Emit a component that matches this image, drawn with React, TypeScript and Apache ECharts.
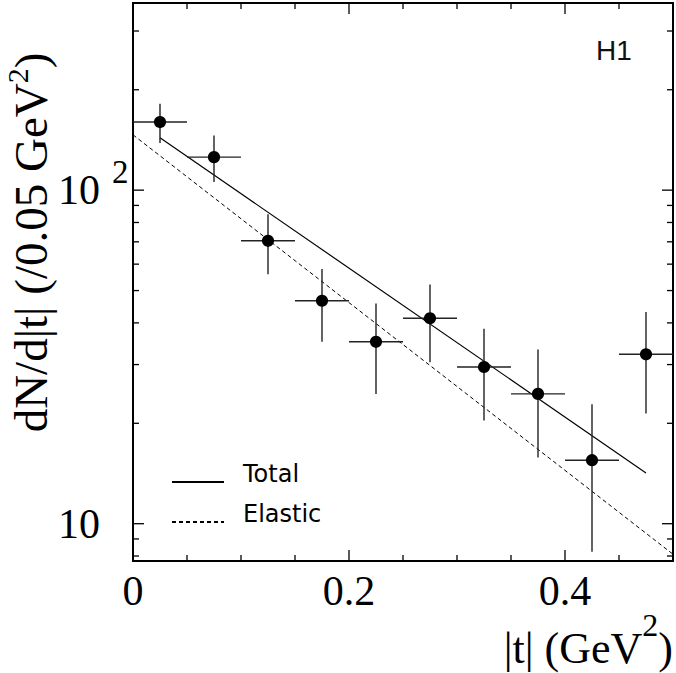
import React, { useEffect, useRef } from "react";
import * as echarts from "echarts";

// ---- data ----
const BIN_CENTERS = [0.025, 0.075, 0.125, 0.175, 0.225, 0.275, 0.325, 0.375, 0.425, 0.475];
const BIN_HALF_WIDTH = [0.025, 0.025, 0.025, 0.025, 0.025, 0.025, 0.025, 0.025, 0.025, 0.025];
const COUNTS = [160, 125.6, 70.5, 46.6, 35.1, 41.3, 29.5, 24.5, 15.5, 32.2];
const COUNTS_UPPER = [181.5, 145.8, 84.7, 58.0, 45.7, 52.1, 38.4, 33.3, 22.8, 43.1];
const COUNTS_LOWER = [138.4, 105.7, 56.0, 35.1, 24.5, 30.5, 20.4, 15.8, 8.24, 21.4];

const TOTAL_T = [0.025, 0.475];
const TOTAL_FIT = [143.5, 14.2];
const ELASTIC_T = [0, 0.5];
const ELASTIC_FIT = [146.5, 8.1];

const X_MIN = 0;
const X_MAX = 0.5;
const Y_MIN = 7.73;
const Y_MAX = 364;

const X_MAJOR_TICKS = [0, 0.2, 0.4];
const X_MINOR_TICKS = [0.05, 0.1, 0.15, 0.25, 0.3, 0.35, 0.45];
const Y_MAJOR_TICKS = [10, 100];
const Y_MINOR_TICKS = [8, 9, 20, 30, 40, 50, 60, 70, 80, 90, 200, 300];

const SERIF = "'Liberation Serif', 'Times New Roman', serif";
const SANS = "'DejaVu Sans', 'Liberation Sans', sans-serif";
const SANS2 = "'Liberation Sans', 'DejaVu Sans', sans-serif";

export default function App() {
  const ref = useRef<HTMLDivElement>(null);

  useEffect(() => {
    document.body.style.margin = "0";
    if (!ref.current) return;
    const chart = echarts.init(ref.current, undefined, { renderer: "svg" });

    const errData = BIN_CENTERS.map((x, i) => [x, COUNTS[i], COUNTS_LOWER[i], COUNTS_UPPER[i], BIN_HALF_WIDTH[i]]);
    const xTickData = [
      ...X_MAJOR_TICKS.map((v) => [v, Y_MIN, 1]),
      ...X_MINOR_TICKS.map((v) => [v, Y_MIN, 0]),
    ];
    const yTickData = [
      ...Y_MAJOR_TICKS.map((v) => [X_MIN, v, 1]),
      ...Y_MINOR_TICKS.map((v) => [X_MIN, v, 0]),
    ];
    const tickStyle = { stroke: "#000", lineWidth: 1.3 };

    const option: any = {
      animation: false,
      backgroundColor: "#fff",
      grid: {
        left: 133,
        right: 2,
        top: 3,
        bottom: 112,
        show: true,
        borderColor: "#000",
        borderWidth: 2,
        backgroundColor: "transparent",
      },
      xAxis: {
        type: "value",
        min: X_MIN,
        max: X_MAX,
        interval: 0.2,
        axisLine: { show: false },
        axisTick: { show: false },
        splitLine: { show: false },
        axisLabel: {
          margin: 9,
          fontFamily: SERIF,
          fontSize: 42,
          color: "#000",
          formatter: (v: number) => {
            if (Math.abs(v - X_MAX) < 1e-9) return "";
            if (Math.abs(v) < 1e-9) return "0";
            return v.toFixed(1);
          },
        },
      },
      yAxis: {
        type: "log",
        min: Y_MIN,
        max: Y_MAX,
        axisLine: { show: false },
        axisTick: { show: false },
        splitLine: { show: false },
        axisLabel: {
          align: "left",
          margin: 75,
          fontFamily: SERIF,
          fontSize: 42,
          color: "#000",
          formatter: (v: number) => {
            const e = Math.log10(v);
            if (Math.abs(e - Math.round(e)) > 1e-6) return "";
            const p = Math.round(e);
            if (p === 1) return "10";
            if (p === 2) return "{b|10}{s|2}";
            return "";
          },
          rich: {
            b: { fontFamily: SERIF, fontSize: 42, color: "#000" },
            s: { fontFamily: SERIF, fontSize: 33, color: "#000", padding: [0, 0, 36, 12] },
          },
        },
      },
      legend: {
        data: ["Total", "Elastic"],
        orient: "vertical",
        left: 166,
        top: 457,
        itemWidth: 52,
        itemHeight: 14,
        itemGap: 0,
        selectedMode: false,
        itemStyle: { opacity: 0 },
        formatter: (name: string) => `{t|${name}}`,
        textStyle: {
          fontFamily: SANS,
          fontSize: 24,
          color: "#000",
          rich: {
            t: { fontFamily: SANS, fontSize: 24, color: "#000", lineHeight: 22, padding: [0, 0, 16, 14] },
          },
        },
      },
      graphic: [
        {
          type: "text",
          left: 596,
          top: 36,
          style: { text: "H1", fontFamily: SANS2, fontSize: 28, fill: "#111" },
        },
        {
          type: "text",
          x: 31,
          y: 242.5,
          rotation: Math.PI / 2,
          style: {
            text: "dN/d|t| (/0.05 GeV{s|2})",
            fontFamily: SERIF,
            fontSize: 47,
            fill: "#000",
            align: "center",
            verticalAlign: "middle",
            rich: {
              s: { fontFamily: SERIF, fontSize: 30, fill: "#000", padding: [0, 0, 28, 0] },
            },
          },
        },
        {
          type: "text",
          x: 673,
          y: 648,
          style: {
            text: "|t| (GeV{s|2})",
            fontFamily: SERIF,
            fontSize: 44,
            fill: "#000",
            align: "right",
            verticalAlign: "middle",
            rich: {
              s: { fontFamily: SERIF, fontSize: 32, fill: "#000", padding: [0, 0, 46, 0] },
            },
          },
        },
      ],
      series: [
        {
          name: "Total",
          type: "line",
          data: TOTAL_T.map((t, i) => [t, TOTAL_FIT[i]]),
          symbol: "none",
          lineStyle: { color: "#000", width: 1.2, type: "solid" },
          itemStyle: { color: "#000" },
          z: 3,
        },
        {
          name: "Elastic",
          type: "line",
          data: ELASTIC_T.map((t, i) => [t, ELASTIC_FIT[i]]),
          symbol: "none",
          lineStyle: { color: "#000", width: 1, type: [4, 3] },
          itemStyle: { color: "#000" },
          z: 3,
        },
        {
          name: "Data",
          type: "custom",
          data: errData,
          clip: false,
          z: 4,
          renderItem: (params: any, api: any) => {
            const x = api.value(0);
            const y = api.value(1);
            const lo = api.value(2);
            const hi = api.value(3);
            const dx = api.value(4);
            const c = api.coord([x, y]);
            const l = api.coord([x - dx, y]);
            const r = api.coord([x + dx, y]);
            const t = api.coord([x, hi]);
            const b = api.coord([x, lo]);
            const st = { stroke: "#222", lineWidth: 1.4 };
            return {
              type: "group",
              children: [
                { type: "line", shape: { x1: l[0], y1: c[1], x2: r[0], y2: c[1] }, style: st },
                { type: "line", shape: { x1: c[0], y1: t[1], x2: c[0], y2: b[1] }, style: st },
                { type: "circle", shape: { cx: c[0], cy: c[1], r: 6.1 }, style: { fill: "#000" } },
              ],
            };
          },
        },
        {
          name: "xticks",
          type: "custom",
          data: xTickData,
          clip: false,
          silent: true,
          z: 5,
          renderItem: (params: any, api: any) => {
            const v = api.value(0);
            const major = api.value(2) === 1;
            const len = major ? 11 : 6;
            const bot = api.coord([v, Y_MIN]);
            const top = api.coord([v, Y_MAX]);
            return {
              type: "group",
              children: [
                { type: "line", shape: { x1: bot[0], y1: bot[1], x2: bot[0], y2: bot[1] - len }, style: tickStyle },
                { type: "line", shape: { x1: top[0], y1: top[1], x2: top[0], y2: top[1] + len }, style: tickStyle },
              ],
            };
          },
        },
        {
          name: "yticks",
          type: "custom",
          data: yTickData,
          clip: false,
          silent: true,
          z: 5,
          renderItem: (params: any, api: any) => {
            const v = api.value(1);
            const major = api.value(2) === 1;
            const len = major ? 11 : 6;
            const lft = api.coord([X_MIN, v]);
            const rgt = api.coord([X_MAX, v]);
            return {
              type: "group",
              children: [
                { type: "line", shape: { x1: lft[0], y1: lft[1], x2: lft[0] + len, y2: lft[1] }, style: tickStyle },
                { type: "line", shape: { x1: rgt[0], y1: rgt[1], x2: rgt[0] - len, y2: rgt[1] }, style: tickStyle },
              ],
            };
          },
        },
      ],
    };

    chart.setOption(option);
    return () => {
      chart.dispose();
    };
  }, []);

  return (
    <div
      ref={ref}
      style={{ position: "fixed", left: 0, top: 0, width: 676, height: 673, background: "#fff" }}
    />
  );
}
